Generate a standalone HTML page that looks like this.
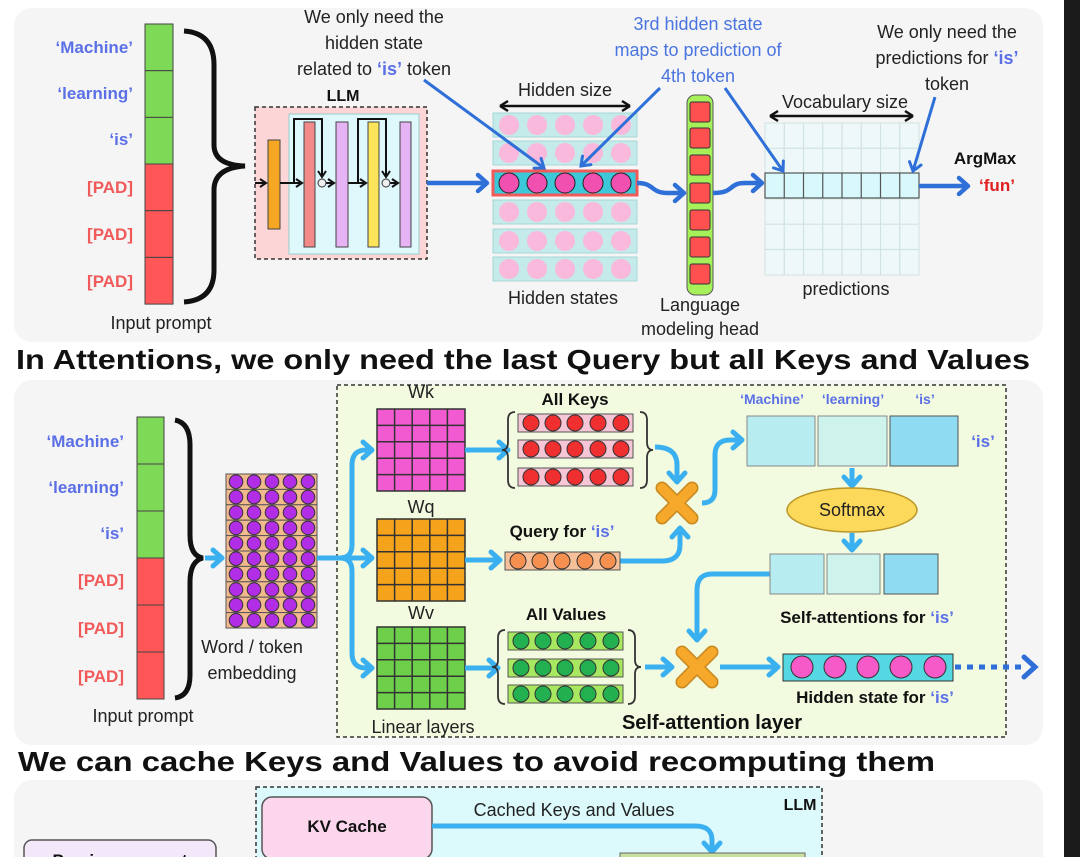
<!DOCTYPE html>
<html><head><meta charset="utf-8"><style>
html,body{margin:0;padding:0;background:#fff;}
svg{display:block;font-family:"Liberation Sans",sans-serif;}
.b{font-weight:bold}
</style></head><body>
<svg width="1080" height="857" viewBox="0 0 1080 857" xmlns="http://www.w3.org/2000/svg">
<defs>
<marker id="ab" markerUnits="userSpaceOnUse" markerWidth="22" markerHeight="22" refX="12" refY="11" orient="auto"><path d="M3,3 L12,11 L3,19" fill="none" stroke="#3bb0f0" stroke-width="5" stroke-linecap="round" stroke-linejoin="round"/></marker>
<marker id="db" markerUnits="userSpaceOnUse" markerWidth="22" markerHeight="22" refX="12" refY="11" orient="auto"><path d="M3,3 L12,11 L3,19" fill="none" stroke="#2f6fd8" stroke-width="4.5" stroke-linecap="round" stroke-linejoin="round"/></marker>
<marker id="tb" markerUnits="userSpaceOnUse" markerWidth="16" markerHeight="16" refX="10" refY="8" orient="auto"><path d="M2,2 L10,8 L2,14" fill="none" stroke="#2f6fd8" stroke-width="3" stroke-linecap="round"/></marker>
<marker id="kb" markerUnits="userSpaceOnUse" markerWidth="12" markerHeight="12" refX="8" refY="6" orient="auto"><path d="M2,2 L8,6 L2,10" fill="none" stroke="#111" stroke-width="2"/></marker>
<g id="hr"><rect x="493" y="-12" width="144" height="24" fill="#c4eaea" stroke="#a6d6d6"/><g fill="#f9b9dc"><circle cx="509" cy="0" r="10"/><circle cx="537" cy="0" r="10"/><circle cx="565" cy="0" r="10"/><circle cx="593" cy="0" r="10"/><circle cx="621" cy="0" r="10"/></g></g>
<g id="grid"><path d="M17.6,0V82M35.2,0V82M52.8,0V82M70.4,0V82M0,16.4H88M0,32.8H88M0,49.2H88M0,65.6H88" stroke="#333" stroke-width="1.5"/><rect width="88" height="82" fill="none" stroke="#333" stroke-width="1.5"/></g>
<g id="er"><rect width="91" height="15.4" fill="#f2b98e" stroke="#555"/><g fill="#b22ee6" stroke="#333" stroke-width="1"><circle cx="10" cy="7.7" r="6.8"/><circle cx="28" cy="7.7" r="6.8"/><circle cx="46" cy="7.7" r="6.8"/><circle cx="64" cy="7.7" r="6.8"/><circle cx="82" cy="7.7" r="6.8"/></g></g>
<g id="kr"><rect x="518" y="-9" width="115" height="18" fill="#f7c6d6" stroke="#555"/><g fill="#f03030" stroke="#333"><circle cx="531" cy="0" r="8"/><circle cx="553" cy="0" r="8"/><circle cx="575" cy="0" r="8"/><circle cx="598" cy="0" r="8"/><circle cx="621" cy="0" r="8"/></g></g>
<g id="vr"><rect x="508" y="-9" width="115" height="18" fill="#a8e860" stroke="#555"/><g fill="#22b050" stroke="#333"><circle cx="521" cy="0" r="8"/><circle cx="543" cy="0" r="8"/><circle cx="565" cy="0" r="8"/><circle cx="588" cy="0" r="8"/><circle cx="611" cy="0" r="8"/></g></g>
<g id="xm"><path d="M-15,-15L15,15M15,-15L-15,15" stroke="#c88a20" stroke-width="13" stroke-linecap="round"/><path d="M-15,-15L15,15M15,-15L-15,15" stroke="#f5a82a" stroke-width="10" stroke-linecap="round"/></g>
</defs>

<rect x="1064" y="0" width="16" height="857" fill="#1b1b1b"/>

<!-- PANEL 1 -->
<rect x="14" y="8" width="1029" height="334" rx="18" fill="#f5f5f5"/>
<g font-size="17" class="b" text-anchor="end">
<text x="133" y="53" fill="#5b6fe6">‘Machine’</text>
<text x="133" y="99" fill="#5b6fe6">‘learning’</text>
<text x="133" y="145" fill="#5b6fe6">‘is’</text>
<text x="133" y="193" fill="#f05a5a">[PAD]</text>
<text x="133" y="240" fill="#f05a5a">[PAD]</text>
<text x="133" y="287" fill="#f05a5a">[PAD]</text>
</g>
<g stroke="#444" stroke-width="1">
<rect x="145" y="24" width="28" height="46.7" fill="#7ed957"/><rect x="145" y="70.7" width="28" height="46.7" fill="#7ed957"/><rect x="145" y="117.4" width="28" height="46.7" fill="#7ed957"/>
<rect x="145" y="164" width="28" height="46.7" fill="#ff5757"/><rect x="145" y="210.7" width="28" height="46.7" fill="#ff5757"/><rect x="145" y="257.4" width="28" height="46.7" fill="#ff5757"/>
</g>
<path d="M184,31 Q214,33 214,65 V145 Q214,165 245,166 Q214,168 214,190 V270 Q214,300 184,302" fill="none" stroke="#111" stroke-width="5"/>
<text x="161" y="329" font-size="18" text-anchor="middle" fill="#222">Input prompt</text>

<text x="343" y="101" font-size="16" class="b" text-anchor="middle" fill="#111">LLM</text>
<rect x="255" y="107" width="172" height="152" fill="#fcd6d6" stroke="#333" stroke-width="1.5" stroke-dasharray="4,3"/>
<rect x="289" y="114" width="130" height="140" fill="#dff8fc" stroke="#9cc" stroke-width="1"/>
<g stroke="#444" stroke-width="1">
<rect x="268" y="140" width="12" height="89" fill="#f5a623"/>
<rect x="304" y="122" width="11" height="125" fill="#f28a8a"/>
<rect x="336" y="122" width="12" height="125" fill="#e6b3f5"/>
<rect x="368" y="122" width="11" height="125" fill="#fce45a"/>
<rect x="400" y="122" width="11" height="125" fill="#e6b3f5"/>
</g>
<g stroke="#111" stroke-width="2" fill="none" marker-end="url(#kb)">
<path d="M255,183H266"/><path d="M280,183H302"/><path d="M326,183H334"/><path d="M348,183H366"/><path d="M390,183H398"/>
<path d="M294,183V119H322V177"/><path d="M358,183V119H386V177"/>
</g>
<circle cx="322" cy="183" r="4" fill="#eee" stroke="#333"/><circle cx="386" cy="183" r="4" fill="#eee" stroke="#333"/>
<path d="M427,183H487" stroke="#2f6fd8" stroke-width="4.5" marker-end="url(#db)"/>

<g font-size="18" text-anchor="middle" fill="#222">
<text x="374" y="23">We only need the</text>
<text x="374" y="49">hidden state</text>
<text x="374" y="75">related to <tspan fill="#5b6fe6" class="b">‘is’</tspan> token</text>
<text x="565" y="96">Hidden size</text>
<text x="563" y="304">Hidden states</text>
<text x="700" y="311">Language</text>
<text x="700" y="335">modeling head</text>
<text x="845" y="108">Vocabulary size</text>
<text x="846" y="295">predictions</text>
<text x="947" y="38">We only need the</text>
<text x="947" y="64">predictions for <tspan fill="#5b6fe6" class="b">‘is’</tspan></text>
<text x="947" y="90">token</text>
</g>
<g font-size="18" text-anchor="middle" fill="#4a74e0">
<text x="698" y="30">3rd hidden state</text>
<text x="698" y="56">maps to prediction of</text>
<text x="698" y="82">4th token</text>
</g>
<path d="M500,106H630M500,106l8,-5M500,106l8,5M630,106l-8,-5M630,106l-8,5" stroke="#111" stroke-width="2.5" fill="none"/>
<path d="M770,116H913M770,116l8,-5M770,116l8,5M913,116l-8,-5M913,116l-8,5" stroke="#111" stroke-width="2.5" fill="none"/>

<use href="#hr" y="125"/><use href="#hr" y="153"/><use href="#hr" y="212"/><use href="#hr" y="241"/><use href="#hr" y="269"/>
<rect x="493" y="171" width="144" height="24" fill="#3cc8d8" stroke="#f05a5a" stroke-width="3"/>
<g fill="#f050b0" stroke="#222"><circle cx="509" cy="183" r="10"/><circle cx="537" cy="183" r="10"/><circle cx="565" cy="183" r="10"/><circle cx="593" cy="183" r="10"/><circle cx="621" cy="183" r="10"/></g>

<rect x="687" y="95" width="26" height="200" rx="8" fill="#a6f05a" stroke="#555"/>
<g fill="#ff5050" stroke="#333"><rect x="690" y="102" width="20" height="20" rx="2"/><rect x="690" y="128" width="20" height="20" rx="2"/><rect x="690" y="155" width="20" height="20" rx="2"/><rect x="690" y="183" width="20" height="20" rx="2"/><rect x="690" y="210" width="20" height="20" rx="2"/><rect x="690" y="237" width="20" height="20" rx="2"/><rect x="690" y="264" width="20" height="20" rx="2"/></g>

<rect x="765" y="123" width="154" height="152" fill="#eef8f8"/>
<path d="M784.25,123V275M803.5,123V275M822.75,123V275M842,123V275M861.25,123V275M880.5,123V275M899.75,123V275M765,148.3H919M765,173.6H919M765,198.9H919M765,224.2H919M765,249.5H919" stroke="#d0e2e2" stroke-width="1.2"/>
<rect x="765" y="123" width="154" height="152" fill="none" stroke="#d0e2e2"/>
<rect x="765" y="173" width="154" height="25" fill="#d8f8fc" stroke="#555" stroke-width="1.2"/>
<path d="M784.25,173V198M803.5,173V198M822.75,173V198M842,173V198M861.25,173V198M880.5,173V198M899.75,173V198" stroke="#555" stroke-width="1.2"/>

<path d="M637,183 C655,183 650,193 668,193 H684" stroke="#2f6fd8" stroke-width="4.5" fill="none" marker-end="url(#db)"/>
<path d="M713,193 C735,193 728,183 745,183 H762" stroke="#2f6fd8" stroke-width="4.5" fill="none" marker-end="url(#db)"/>
<path d="M919,186H968" stroke="#2f6fd8" stroke-width="4.5" marker-end="url(#db)"/>
<text x="985" y="164" font-size="17" class="b" text-anchor="middle" fill="#111">ArgMax</text>
<text x="997" y="191" font-size="17" class="b" text-anchor="middle" fill="#e02020">‘fun’</text>
<g stroke="#2f6fd8" stroke-width="3" marker-end="url(#tb)">
<path d="M424,80L544,168"/><path d="M660,88L581,166"/><path d="M725,88L783,171"/><path d="M935,97L913,171"/>
</g>

<text x="16" y="369" font-size="28" class="b" fill="#111" textLength="1014" lengthAdjust="spacingAndGlyphs">In Attentions, we only need the last Query but all Keys and Values</text>

<!-- PANEL 2 -->
<rect x="14" y="380" width="1029" height="365" rx="18" fill="#f5f5f5"/>
<g font-size="17" class="b" text-anchor="end">
<text x="124" y="447" fill="#5b6fe6">‘Machine’</text>
<text x="124" y="493" fill="#5b6fe6">‘learning’</text>
<text x="124" y="539" fill="#5b6fe6">‘is’</text>
<text x="124" y="586" fill="#f05a5a">[PAD]</text>
<text x="124" y="634" fill="#f05a5a">[PAD]</text>
<text x="124" y="682" fill="#f05a5a">[PAD]</text>
</g>
<g stroke="#444" stroke-width="1">
<rect x="137" y="417" width="27" height="47" fill="#7ed957"/><rect x="137" y="464" width="27" height="47" fill="#7ed957"/><rect x="137" y="511" width="27" height="47" fill="#7ed957"/>
<rect x="137" y="558" width="27" height="47" fill="#ff5757"/><rect x="137" y="605" width="27" height="47" fill="#ff5757"/><rect x="137" y="652" width="27" height="47" fill="#ff5757"/>
</g>
<path d="M175,420 Q190,423 190,445 V535 Q190,556 203,558 Q190,561 190,582 V675 Q190,696 175,698" fill="none" stroke="#111" stroke-width="5"/>
<path d="M205,558H222" stroke="#3bb0f0" stroke-width="5" marker-end="url(#ab)"/>
<use href="#er" x="226" y="474"/><use href="#er" x="226" y="489.4"/><use href="#er" x="226" y="504.8"/><use href="#er" x="226" y="520.2"/><use href="#er" x="226" y="535.6"/><use href="#er" x="226" y="551"/><use href="#er" x="226" y="566.4"/><use href="#er" x="226" y="581.8"/><use href="#er" x="226" y="597.2"/><use href="#er" x="226" y="612.6"/>
<g font-size="18" text-anchor="middle" fill="#222">
<text x="252" y="653">Word / token</text>
<text x="252" y="679">embedding</text>
<text x="143" y="722">Input prompt</text>
</g>

<rect x="337" y="385" width="669" height="352" fill="#f2fbe0" stroke="#333" stroke-width="1.5" stroke-dasharray="4,3"/>
<g font-size="18" text-anchor="middle" fill="#222">
<text x="421" y="398">Wk</text><text x="421" y="513">Wq</text><text x="421" y="619">Wv</text>
<text x="423" y="733">Linear layers</text>
</g>
<rect x="377" y="409" width="88" height="82" fill="#f25ad2"/><use href="#grid" x="377" y="409"/>
<rect x="377" y="519" width="88" height="82" fill="#f5a31a"/><use href="#grid" x="377" y="519"/>
<rect x="377" y="627" width="88" height="82" fill="#6dcf4a"/><use href="#grid" x="377" y="627"/>
<g stroke="#3bb0f0" stroke-width="5" fill="none">
<path d="M317,558H372" marker-end="url(#ab)"/>
<path d="M340,558 Q352,558 352,545 V465 Q352,450 366,450 H372" marker-end="url(#ab)"/>
<path d="M340,558 Q352,558 352,571 V653 Q352,668 366,668 H372" marker-end="url(#ab)"/>
<path d="M465,450H508" marker-end="url(#ab)"/>
<path d="M465,560H500" marker-end="url(#ab)"/>
<path d="M465,668H498" marker-end="url(#ab)"/>
<path d="M655,447 Q677,447 677,465 V482" marker-end="url(#ab)"/>
<path d="M620,561 H662 Q680,561 680,545 V528" marker-end="url(#ab)"/>
<path d="M702,503 Q715,503 715,490 V455 Q715,440 730,440 H742" marker-end="url(#ab)"/>
<path d="M852,468V486" marker-end="url(#ab)"/>
<path d="M852,533V550" marker-end="url(#ab)"/>
<path d="M770,574 H712 Q697,574 697,590 V640" marker-end="url(#ab)"/>
<path d="M645,667H672" marker-end="url(#ab)"/>
<path d="M720,667H778" marker-end="url(#ab)"/>
</g>
<path d="M955,667H1025" stroke="#2f6fd8" stroke-width="5" stroke-dasharray="6,6"/>
<path d="M1024,657L1035,667L1024,677" stroke="#2f6fd8" stroke-width="5" fill="none" stroke-linecap="round"/>

<g font-size="17" class="b" text-anchor="middle" fill="#111">
<text x="575" y="405">All Keys</text>
<text x="562" y="537">Query for <tspan fill="#5b6fe6">‘is’</tspan></text>
<text x="566" y="620">All Values</text>
<text x="867" y="623">Self-attentions for <tspan fill="#5b6fe6">‘is’</tspan></text>
<text x="875" y="703">Hidden state for <tspan fill="#5b6fe6">‘is’</tspan></text>
<text x="712" y="729" font-size="20">Self-attention layer</text>
</g>
<use href="#kr" y="423"/><use href="#kr" y="449"/><use href="#kr" y="477"/>
<rect x="505" y="552" width="115" height="18" fill="#f5c09a" stroke="#555"/>
<g fill="#f59050" stroke="#333"><circle cx="518" cy="561" r="8"/><circle cx="540" cy="561" r="8"/><circle cx="562" cy="561" r="8"/><circle cx="585" cy="561" r="8"/><circle cx="608" cy="561" r="8"/></g>
<use href="#vr" y="641"/><use href="#vr" y="668"/><use href="#vr" y="694"/>
<g fill="none" stroke="#333" stroke-width="1.8">
<path d="M515,412 Q508,412 508,420 V442 Q508,450 502,450 Q508,450 508,458 V480 Q508,488 515,488"/>
<path d="M640,412 Q647,412 647,420 V442 Q647,450 653,450 Q647,450 647,458 V480 Q647,488 640,488"/>
<path d="M505,630 Q498,630 498,638 V660 Q498,667 492,667 Q498,667 498,674 V696 Q498,704 505,704"/>
<path d="M628,630 Q635,630 635,638 V660 Q635,667 641,667 Q635,667 635,674 V696 Q635,704 628,704"/>
</g>
<use href="#xm" x="677" y="503"/><use href="#xm" x="697" y="667"/>

<g font-size="14" class="b" text-anchor="middle" fill="#5b6fe6">
<text x="772" y="404">‘Machine’</text><text x="853" y="404">‘learning’</text><text x="925" y="404">‘is’</text>
<text x="983" y="447" font-size="17">‘is’</text>
</g>
<g stroke="#888" stroke-width="1">
<rect x="747" y="416" width="68" height="50" fill="#b7ecf0"/><rect x="818" y="416" width="69" height="50" fill="#cdf3ec"/><rect x="890" y="416" width="68" height="50" fill="#8fdcf2" stroke="#555"/>
<rect x="770" y="554" width="54" height="40" fill="#b7ecf0"/><rect x="827" y="554" width="53" height="40" fill="#cdf3ec"/><rect x="884" y="554" width="54" height="40" fill="#8fdcf2" stroke="#555"/>
</g>
<ellipse cx="852" cy="510" rx="65" ry="22" fill="#fcd95a" stroke="#b8962a" stroke-width="1.5"/>
<text x="852" y="516" font-size="18" text-anchor="middle" fill="#222">Softmax</text>
<rect x="783" y="654" width="170" height="27" fill="#55d8e2" stroke="#333"/>
<g fill="#f55ac8" stroke="#333"><circle cx="802" cy="667" r="11"/><circle cx="835" cy="667" r="11"/><circle cx="868" cy="667" r="11"/><circle cx="901" cy="667" r="11"/><circle cx="935" cy="667" r="11"/></g>

<text x="18" y="771" font-size="28" class="b" fill="#111" textLength="917" lengthAdjust="spacingAndGlyphs">We can cache Keys and Values to avoid recomputing them</text>

<!-- PANEL 3 -->
<rect x="14" y="780" width="1029" height="100" rx="18" fill="#f5f5f5"/>
<rect x="256" y="787" width="566" height="90" fill="#dcfafc" stroke="#333" stroke-width="1.5" stroke-dasharray="4,3"/>
<rect x="262" y="797" width="170" height="62" rx="10" fill="#fcd6ec" stroke="#555" stroke-width="1.5"/>
<text x="347" y="832" font-size="17" class="b" text-anchor="middle" fill="#111">KV Cache</text>
<text x="574" y="816" font-size="18" text-anchor="middle" fill="#222">Cached Keys and Values</text>
<text x="800" y="810" font-size="16" class="b" text-anchor="middle" fill="#111">LLM</text>
<path d="M432,826 H695 Q712,826 712,840 V852" stroke="#3bb0f0" stroke-width="5" fill="none" marker-end="url(#ab)"/>
<rect x="620" y="853" width="185" height="20" fill="#c9e0a0" stroke="#666"/>
<rect x="24" y="840" width="192" height="40" rx="8" fill="#f3e8fa" stroke="#555" stroke-width="1.5"/>
<text x="120" y="866" font-size="17" class="b" text-anchor="middle" fill="#111">Previous prompt</text>
</svg>
</body></html>
